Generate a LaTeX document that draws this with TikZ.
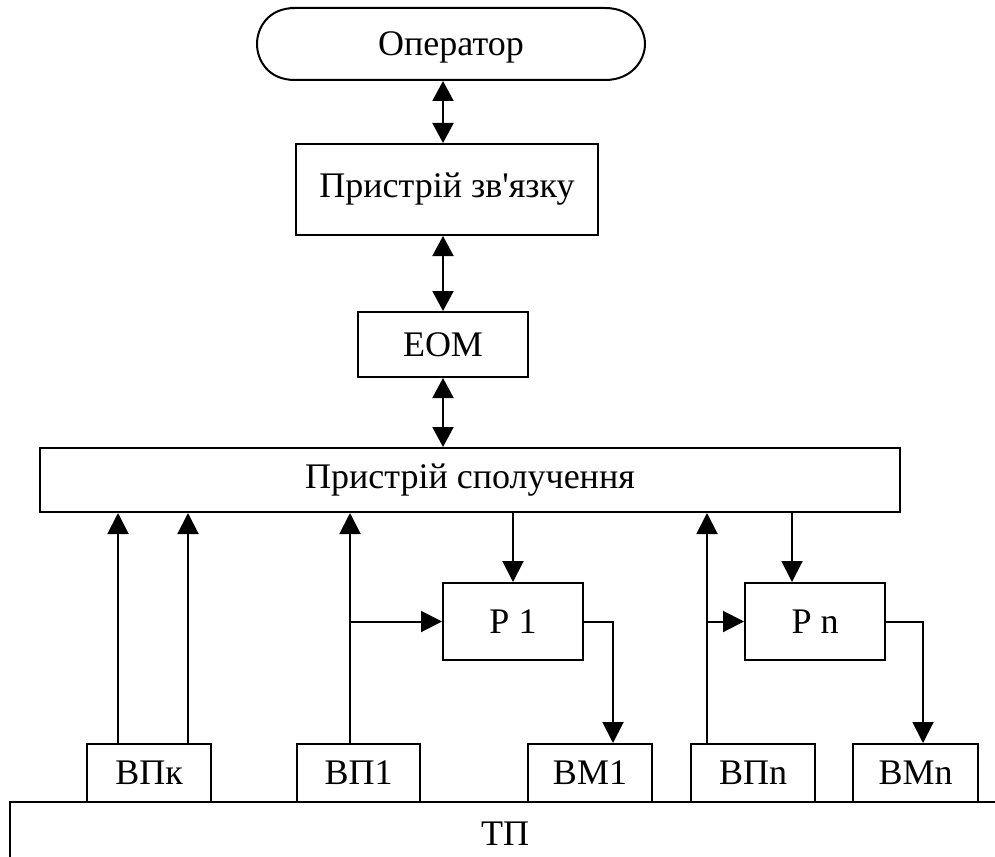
\documentclass[tikz,border=0pt]{standalone}
\usepackage{fontspec}
\setmainfont{Liberation Serif}[Ligatures=TeXOff]
\usetikzlibrary{arrows.meta}
\begin{document}
\begin{tikzpicture}[x=1pt,y=-1pt,
  line width=2pt,
  every node/.style={font=\fontsize{36}{40}\selectfont, inner sep=0pt},
  blk/.style={draw, rectangle, minimum width=#1},
  arr/.style={-{Triangle[length=21pt,width=21pt]}},
  dbl/.style={{Triangle[length=20pt,width=21pt]}-{Triangle[length=20pt,width=21pt]}}]
  \useasboundingbox (0,0) rectangle (995,856);

  % operator terminal with elliptic ends
  \node[minimum width=388pt, minimum height=66pt] (op) at (451,47) {Оператор};
  \draw (290,8) -- (605,8) .. controls (632,8) and (645,28) .. (645,44)
        .. controls (645,60) and (632,80) .. (605,80) -- (295,80)
        .. controls (268,80) and (257,60) .. (257,44)
        .. controls (257,28) and (268,8) .. (295,8) -- cycle;

  % upper chain
  \node[blk=302pt, minimum height=91pt] (zv) at (447,189.5) {Пристрій зв'язку};
  \node[blk=170pt, minimum height=65pt] (eom) at (443,344.5) {ЕОМ};
  \node[blk=860pt, minimum height=64pt] (sp) at (470,480) {Пристрій сполучення};

  % regulators
  \node[blk=140pt, minimum height=77pt] (p1) at (513,621.5) {Р 1};
  \node[blk=140pt, minimum height=77pt] (pn) at (815,621.5) {Р n};

  % sensors and actuators on the process
  \node[blk=124pt, minimum height=58pt] (vpk) at (149,773) {ВПк};
  \node[blk=123pt, minimum height=58pt] (vp1) at (358.5,773) {ВП1};
  \node[blk=124pt, minimum height=58pt] (bm1) at (590,773) {ВМ1};
  \node[blk=124pt, minimum height=58pt] (vpn) at (753,773) {ВПn};
  \node[blk=125pt, minimum height=58pt] (bmn) at (915.5,773) {ВМn};

  % technological process frame
  \draw (10,858) -- (10,802) -- (997,802);
  \node (tp) at (505,834) {ТП};

  % two-way links
  \draw[dbl] (eom.north |- op.south) -- (eom.north |- zv.north);
  \draw[dbl] (eom.north |- zv.south) -- (eom.north);
  \draw[dbl] (eom.south) -- (eom.south |- sp.north);

  % sensor lines
  \draw[arr] ([xshift=-31pt]vpk.north) coordinate (ka) -- (ka |- sp.south);
  \draw[arr] ([xshift=39pt]vpk.north) coordinate (kb) -- (kb |- sp.south);
  \draw[arr] ([xshift=-8.5pt]vp1.north) coordinate (v1) -- (v1 |- sp.south);
  \draw[arr] (v1 |- p1.west) -- (p1.west);
  \draw[arr] ([xshift=-46pt]vpn.north) coordinate (vn) -- (vn |- sp.south);
  \draw[arr] (vn |- pn.west) -- (pn.west);

  % control lines
  \draw[arr] (p1.north |- sp.south) -- (p1.north);
  \coordinate (pa) at ([xshift=-23pt]pn.north);
  \draw[arr] (pa |- sp.south) -- (pa);
  \draw[arr] (p1.east) -| ([xshift=23pt]bm1.north);
  \draw[arr] (pn.east) -| ([xshift=7.5pt]bmn.north);
\end{tikzpicture}
\end{document}
